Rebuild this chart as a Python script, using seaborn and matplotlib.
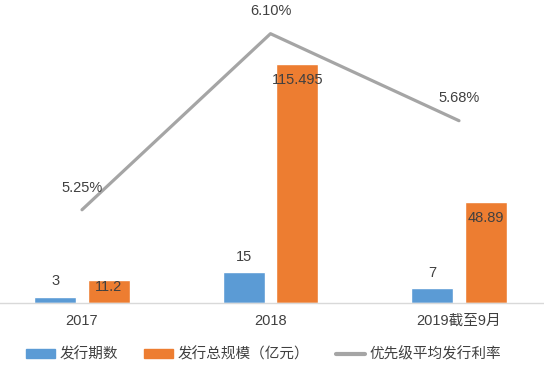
import pandas as pd
import matplotlib
matplotlib.use("Agg")
import matplotlib.pyplot as plt
import seaborn as sns
from matplotlib.patches import Patch
from matplotlib.lines import Line2D

categories = ["2017", "2018", "2019截至9月"]
issue_count = [3, 15, 7]
issue_size = [11.2, 115.495, 48.89]
avg_rate = [5.25, 6.10, 5.68]
count_label = "发行期数"
size_label = "发行总规模（亿元）"
rate_label = "优先级平均发行利率"

blue = "#5B9BD5"
orange = "#ED7D31"
gray = "#A5A5A5"
txt = "#404040"

sns.set_theme(style="white")
plt.rcParams["font.family"] = ["Liberation Sans", "Noto Sans CJK SC", "DejaVu Sans"]

df = pd.DataFrame({
    "cat": categories * 2,
    "value": issue_count + issue_size,
    "series": [count_label] * 3 + [size_label] * 3,
})

fig = plt.figure(figsize=(5.44, 3.72), dpi=100)
ax = fig.add_axes([0, 0.1855, 1, 0.7796])

sns.barplot(data=df, x="cat", y="value", hue="series", order=categories,
            hue_order=[count_label, size_label], palette=[blue, orange],
            width=0.57, gap=0.22, saturation=1, legend=False, ax=ax)
ax.set_xlim(-0.435, 2.451)
ax.set_ylim(0, 140)

ax.bar_label(ax.containers[0], fmt="%g", padding=6, fontsize=10.5, color=txt)
# orange labels sit just inside the bar top (short bar: straddling the top)
offsets = [-5, -12, -12]
for bar, v, off in zip(ax.containers[1], issue_size, offsets):
    ax.annotate(f"{v:g}", (bar.get_x() + bar.get_width() / 2, bar.get_height()),
                xytext=(0, off), textcoords="offset points", ha="center",
                va="center", fontsize=10.5, color=txt)

ax2 = ax.twinx()
sns.lineplot(x=[0, 1, 2], y=avg_rate, color=gray, linewidth=2.3, ax=ax2)
ax2.set_ylim(4.8, 6.2)
for i, r in enumerate(avg_rate):
    ax2.annotate(f"{r:.2f}%", (i, r), xytext=(0, 16), textcoords="offset points",
                 ha="center", va="center", fontsize=10.5, color=txt)

for a in (ax, ax2):
    a.set_yticks([])
    a.set_ylabel("")
    for s in ["top", "left", "right", "bottom"]:
        a.spines[s].set_visible(False)
ax.spines["bottom"].set_visible(True)
ax.spines["bottom"].set_color("#D9D9D9")
ax.spines["bottom"].set_linewidth(1)
ax.set_xlabel("")
ax.tick_params(axis="x", length=0, pad=8, labelsize=10.5, labelcolor=txt)

handles = [Patch(color=blue), Patch(color=orange), Line2D([], [], color=gray, linewidth=3)]
fig.legend(handles, [count_label, size_label, rate_label], loc="center",
           bbox_to_anchor=(0.484, 0.048), ncol=3, frameon=False, fontsize=10.5,
           labelcolor=txt, handlelength=2.0, handleheight=0.55, handletextpad=0.3,
           columnspacing=1.8)

fig.savefig("out.png", dpi=100)
